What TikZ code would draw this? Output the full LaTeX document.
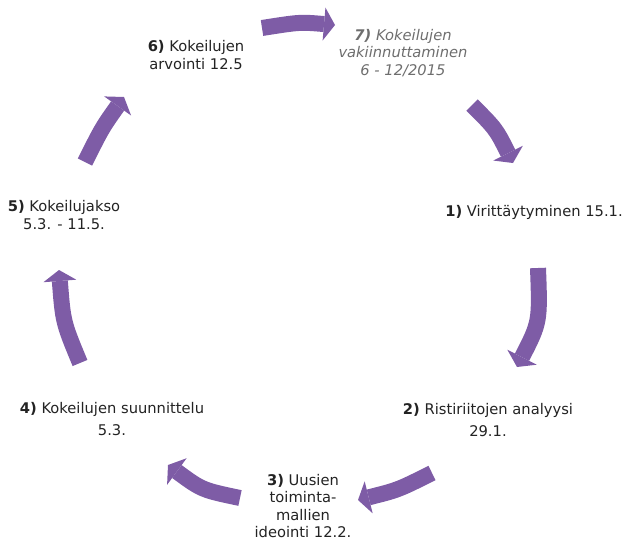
\documentclass[tikz,border=0pt]{standalone}
\usepackage{fontspec}
\setmainfont{DejaVu Sans}
\usepackage{xcolor}
\usepackage{tikz}
\usetikzlibrary{arrows.meta}
\definecolor{cyclepurple}{RGB}{126,92,166}
\definecolor{phasetext}{RGB}{35,35,35}
\definecolor{latertext}{RGB}{110,110,110}

\begin{document}
\begin{tikzpicture}[
        x=1pt, y=-1pt,
        font=\fontsize{14.7}{18.5}\selectfont,
        phase/.style={align=center,text=phasetext,inner sep=0pt},
        later/.style={phase,text=latertext,font=\fontsize{14.7}{17.5}\selectfont\itshape},
        arrow/.style={line width=16pt,draw=cyclepurple,-{Triangle[length=11pt,width=33pt,line width=0pt]}}
    ]
        \useasboundingbox (0,0) rectangle (625,544);

        \node[phase] (p6) at (196,55) {\textbf{6)} Kokeilujen\\arvointi 12.5};
        \node[later] (p7) at (403,53) {\textbf{7)} Kokeilujen\\vakiinnuttaminen\\6 - 12/2015};
        \node[phase] (p1) at (534,212) {\textbf{1)} Virittäytyminen 15.1.};
        \node[phase] (p2) at (488,420) {\textbf{2)} Ristiriitojen analyysi\\[4pt]29.1.};
        \node[phase,font=\fontsize{14.7}{17.3}\selectfont] (p3) at (303,506) {\textbf{3)} Uusien\\toiminta-\\mallien\\ideointi 12.2.};
        \node[phase] (p4) at (112,419) {\textbf{4)} Kokeilujen suunnittelu\\[3pt]5.3.};
        \node[phase] (p5) at (64,215) {\textbf{5)} Kokeilujakso\\5.3. - 11.5.};

        % arrow ends
        \coordinate (a67s) at (262,28);  \coordinate (a67e) at (335,25);
        \coordinate (a71s) at (472,105); \coordinate (a71e) at (513,163);
        \coordinate (a12s) at (538,268); \coordinate (a12e) at (517,367);
        \coordinate (a23s) at (432,473); \coordinate (a23e) at (358,500);
        \coordinate (a34s) at (240,498); \coordinate (a34e) at (168,465);
        \coordinate (a45s) at (80,363);  \coordinate (a45e) at (59,270);
        \coordinate (a56s) at (85,162);  \coordinate (a56e) at (124,97);

        \draw[arrow] (a67s) .. controls (300,22) .. (a67e);
        \draw[arrow] (a71s) .. controls (496,129) .. (a71e);
        \draw[arrow] (a12s) .. controls (540,322) .. (a12e);
        \draw[arrow] (a23s) .. controls (398,490) .. (a23e);
        \draw[arrow] (a34s) .. controls (202,490) .. (a34e);
        \draw[arrow] (a45s) .. controls (63,322) .. (a45e);
        \draw[arrow] (a56s) .. controls (102,128) .. (a56e);
    \end{tikzpicture}
\end{document}
